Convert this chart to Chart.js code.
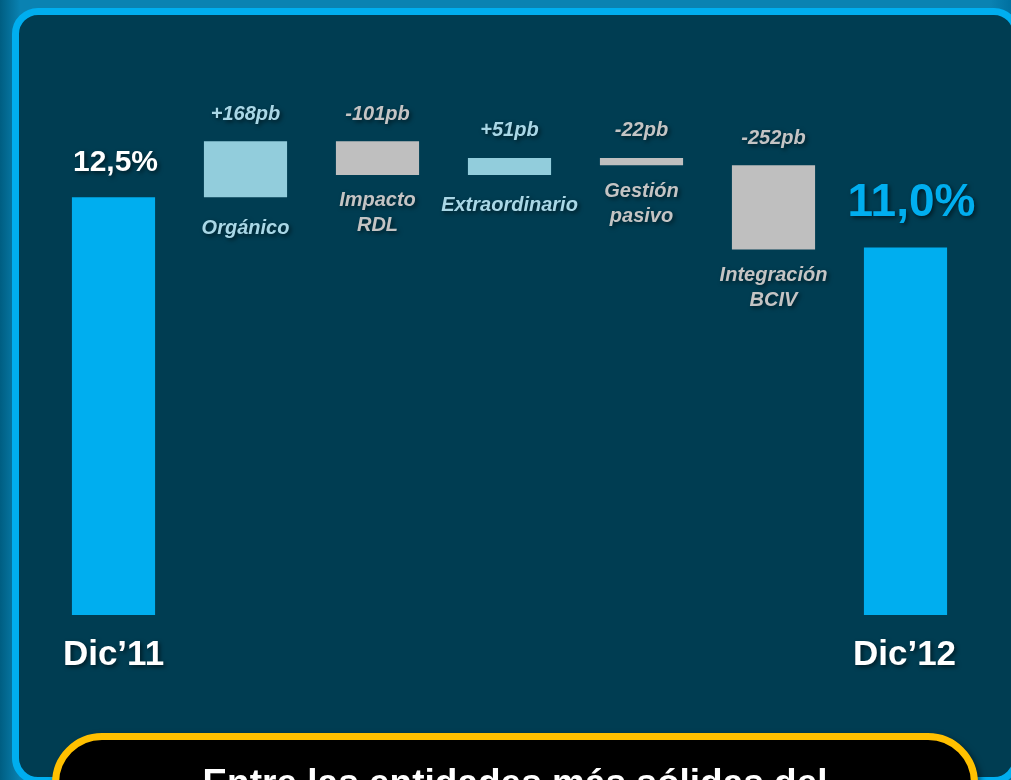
<!DOCTYPE html>
<html>
<head>
<meta charset="utf-8">
<script src="https://cdn.jsdelivr.net/npm/chart.js@4"></script>
<style>
    body {
        margin: 0;
        width: 1011px;
        height: 780px;
        overflow: hidden;
        background: linear-gradient(90deg, #005e82 0%, #0a82b2 2%, #0a82b2 98%, #0070a0 100%);
        font-family: "Liberation Sans", Arial, sans-serif;
    }
    .panel {
        position: absolute;
        left: 12px;
        top: 8px;
        width: 994px;
        height: 762px;
        border: 7px solid #00aeef;
        border-radius: 26px;
        background: #003d52;
    }
    .note {
        position: absolute;
        left: 52px;
        top: 733px;
        width: 912px;
        height: 120px;
        border: 7px solid #ffc000;
        border-radius: 50px;
        background: #000;
        box-shadow: 3px 3px 6px rgba(0, 0, 0, 0.5);
        z-index: 2;
    }
    .note p {
        margin: 0;
        padding-top: 22px;
        text-align: center;
        color: #fff;
        font-weight: bold;
        font-size: 37px;
    }
    #chartWrap {
        position: absolute;
        left: 0;
        top: 0;
        width: 1011px;
        height: 780px;
        z-index: 1;
    }
</style>
</head>
<body>
<div class="panel"></div>
<div id="chartWrap"><canvas id="capitalChart" width="1011" height="780"></canvas></div>
<div class="note"><p>Entre las entidades más sólidas del</p></div>

<script>
// Chart data (capital ratio, %, and changes in basis points)
const categories = ['Dic’11', 'Orgánico', 'Impacto RDL', 'Extraordinario', 'Gestión pasivo', 'Integración BCIV', 'Dic’12'];
const startRatio = 12.5;
const endRatio = 11.0;
const changesPb = [168, -101, 51, -22, -252];
const valueLabels = ['12,5%', '+168pb', '-101pb', '+51pb', '-22pb', '-252pb', '11,0%'];
const categoryLines = [['Dic’11'], ['Orgánico'], ['Impacto', 'RDL'], ['Extraordinario'], ['Gestión', 'pasivo'], ['Integración', 'BCIV'], ['Dic’12']];

// Build floating ranges for the waterfall
const ranges = [[0, startRatio]];
let running = startRatio;
changesPb.forEach(pb => {
    const next = running + pb / 100;
    ranges.push([running, next]);
    running = next;
});
ranges.push([0, endRatio]);

const totalColor = '#00aeef';
const upColor = '#92cddc';
const downColor = '#bfbfbf';
const barColors = ranges.map((r, i) => {
    if (i === 0 || i === ranges.length - 1) return totalColor;
    return r[1] >= r[0] ? upColor : downColor;
});
const upText = '#a9d7e6';
const downText = '#c4c4c4';

const fontFamily = '"Liberation Sans", Arial, sans-serif';

// Labels drawn on top of the bars
const labelPlugin = {
    id: 'waterfallLabels',
    afterDatasetsDraw(chart) {
        const ctx = chart.ctx;
        const meta = chart.getDatasetMeta(0);
        ctx.save();
        ctx.textAlign = 'center';
        ctx.textBaseline = 'middle';
        ctx.shadowColor = 'rgba(0, 0, 0, 0.55)';
        ctx.shadowBlur = 4;
        ctx.shadowOffsetX = 2;
        ctx.shadowOffsetY = 2;

        meta.data.forEach((bar, i) => {
            const top = Math.min(bar.y, bar.base);
            const bottom = Math.max(bar.y, bar.base);
            const last = meta.data.length - 1;

            if (i === 0) {
                ctx.fillStyle = '#ffffff';
                ctx.font = 'bold 30px ' + fontFamily;
                ctx.fillText(valueLabels[i], bar.x + 2, top - 35);
                ctx.font = 'bold 35px ' + fontFamily;
                ctx.fillText(categoryLines[i][0], bar.x, bottom + 40);
            } else if (i === last) {
                ctx.fillStyle = totalColor;
                ctx.font = 'bold 46px ' + fontFamily;
                ctx.fillText(valueLabels[i], bar.x + 6, top - 44);
                ctx.fillStyle = '#ffffff';
                ctx.font = 'bold 35px ' + fontFamily;
                ctx.fillText(categoryLines[i][0], bar.x - 1, bottom + 40);
            } else {
                const up = ranges[i][1] >= ranges[i][0];
                ctx.fillStyle = up ? upText : downText;
                ctx.font = 'italic bold 20px ' + fontFamily;
                ctx.fillText(valueLabels[i], bar.x, top - 27);
                // single-line labels sit a little lower
                const firstLine = categoryLines[i].length === 1 ? 31 : 26;
                categoryLines[i].forEach((line, k) => {
                    ctx.fillText(line, bar.x, bottom + firstLine + k * 25);
                });
            }
        });
        ctx.restore();
    }
};

document.addEventListener('DOMContentLoaded', function () {
    const ctx = document.getElementById('capitalChart').getContext('2d');
    const capitalChart = new Chart(ctx, {
        type: 'bar',
        data: {
            labels: categories,
            datasets: [{
                data: ranges,
                backgroundColor: barColors,
                borderWidth: 0,
                categoryPercentage: 1,
                barPercentage: 0.63
            }]
        },
        options: {
            responsive: false,
            animation: false,
            layout: {
                padding: { left: 47.5, right: 39.5, top: 47, bottom: 165 }
            },
            scales: {
                x: { display: false },
                y: { display: false, min: 0, max: 17 }
            },
            plugins: {
                legend: { display: false },
                tooltip: { enabled: false }
            }
        },
        plugins: [labelPlugin]
    });
});
</script>
</body>
</html>
